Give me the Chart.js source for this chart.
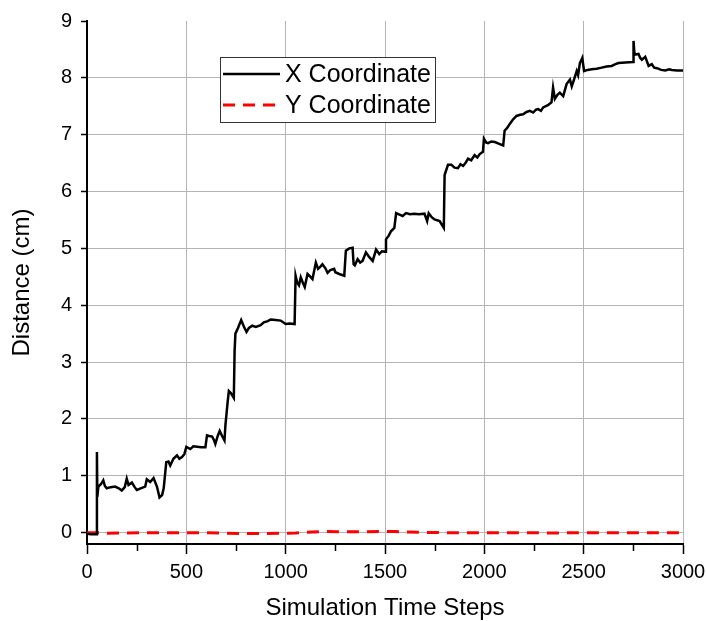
<!DOCTYPE html>
<html>
<head>
<meta charset="utf-8">
<script src="https://cdn.jsdelivr.net/npm/chart.js@4"></script>
<style>
    body { margin: 0; background: #fff; }
    canvas { display: block; }
</style>
</head>
<body>
<canvas id="chart" width="706" height="621"></canvas>
<script>
// X coordinate series (time step, distance in cm)
const xSteps = [0, 20, 48, 50, 52, 57, 70, 82, 90, 99, 120, 141, 160, 175, 190, 200, 209, 226, 240, 251, 270, 293, 301, 318, 335, 352, 365, 378, 386, 399, 410, 419, 435, 453, 465, 478, 490, 500, 520, 535, 554, 575, 596, 604, 615, 630, 640, 646, 658, 668, 680, 692, 697, 702, 708, 714, 725, 739, 743, 747, 760, 776, 790, 803, 815, 832, 850, 874, 890, 910, 924, 950, 975, 1000, 1020, 1045, 1050, 1058, 1067, 1076, 1086, 1096, 1110, 1125, 1135, 1152, 1163, 1175, 1185, 1200, 1211, 1225, 1244, 1250, 1270, 1295, 1303, 1320, 1337, 1342, 1348, 1362, 1375, 1387, 1404, 1420, 1438, 1455, 1471, 1485, 1500, 1505, 1518, 1530, 1547, 1556, 1570, 1589, 1606, 1625, 1648, 1670, 1699, 1712, 1720, 1735, 1749, 1775, 1796, 1800, 1817, 1834, 1850, 1867, 1880, 1893, 1905, 1918, 1934, 1951, 1965, 1977, 1993, 1998, 2010, 2019, 2035, 2053, 2075, 2095, 2102, 2115, 2128, 2145, 2162, 2180, 2195, 2212, 2229, 2246, 2260, 2271, 2285, 2296, 2320, 2338, 2346, 2355, 2368, 2380, 2397, 2414, 2431, 2440, 2447, 2465, 2472, 2481, 2493, 2502, 2520, 2540, 2565, 2591, 2615, 2641, 2660, 2675, 2710, 2749, 2751, 2755, 2759, 2776, 2785, 2793, 2810, 2827, 2843, 2855, 2869, 2890, 2911, 2930, 2944, 2970, 3000];
const xDist = [-0.02, -0.03, -0.03, 1.42, 0.63, 0.81, 0.85, 0.92, 0.82, 0.78, 0.8, 0.81, 0.78, 0.74, 0.8, 0.95, 0.84, 0.88, 0.8, 0.75, 0.78, 0.81, 0.94, 0.89, 0.96, 0.81, 0.62, 0.66, 0.78, 1.24, 1.25, 1.18, 1.3, 1.36, 1.3, 1.33, 1.38, 1.51, 1.47, 1.52, 1.51, 1.5, 1.5, 1.71, 1.7, 1.69, 1.62, 1.56, 1.7, 1.79, 1.7, 1.62, 1.9, 2.08, 2.3, 2.49, 2.45, 2.37, 3.2, 3.5, 3.6, 3.74, 3.62, 3.53, 3.6, 3.64, 3.62, 3.65, 3.7, 3.72, 3.75, 3.74, 3.73, 3.67, 3.68, 3.67, 4.52, 4.4, 4.35, 4.49, 4.4, 4.32, 4.55, 4.5, 4.46, 4.75, 4.64, 4.68, 4.72, 4.65, 4.57, 4.62, 4.64, 4.58, 4.55, 4.52, 4.96, 5.0, 5.01, 4.72, 4.7, 4.81, 4.75, 4.78, 4.93, 4.85, 4.78, 4.98, 4.9, 4.95, 4.94, 5.16, 5.22, 5.3, 5.36, 5.62, 5.6, 5.57, 5.62, 5.6, 5.61, 5.6, 5.61, 5.48, 5.62, 5.55, 5.51, 5.48, 5.36, 6.29, 6.47, 6.47, 6.42, 6.41, 6.48, 6.45, 6.5, 6.58, 6.55, 6.64, 6.6, 6.66, 6.7, 6.93, 6.86, 6.85, 6.88, 6.87, 6.84, 6.81, 7.07, 7.12, 7.19, 7.27, 7.33, 7.35, 7.36, 7.4, 7.42, 7.39, 7.44, 7.45, 7.42, 7.48, 7.52, 7.57, 7.83, 7.63, 7.7, 7.74, 7.68, 7.89, 7.97, 7.85, 7.92, 8.12, 8.05, 8.26, 8.35, 8.12, 8.14, 8.15, 8.16, 8.18, 8.2, 8.21, 8.24, 8.26, 8.27, 8.28, 8.65, 8.45, 8.41, 8.42, 8.35, 8.32, 8.37, 8.21, 8.24, 8.18, 8.17, 8.14, 8.13, 8.15, 8.14, 8.13, 8.13];

// Y coordinate series, stays close to zero
const ySteps = [0, 50, 100, 200, 300, 400, 500, 600, 700, 800, 900, 1000, 1050, 1100, 1200, 1300, 1400, 1500, 1550, 1600, 1700, 1800, 1900, 2000, 2100, 2200, 2300, 2400, 2500, 2600, 2700, 2800, 2900, 3000];
const yDist = [0, 0, -0.01, -0.005, 0, 0, 0, 0, -0.01, -0.015, -0.015, -0.01, -0.005, 0.005, 0.02, 0.015, 0.015, 0.02, 0.02, 0.01, 0.005, 0, 0, 0, 0, 0, -0.005, -0.005, 0, 0, 0, 0, 0, 0];

const yTicks = [0, 1, 2, 3, 4, 5, 6, 7, 8, 9];
const xTicks = [0, 500, 1000, 1500, 2000, 2500, 3000];
const xMinorTicks = [250, 750, 1250, 1750, 2250, 2750];

const fontFamily = '"Liberation Sans", Arial, sans-serif';

function toPoints(xs, ys) {
    return xs.map((x, i) => ({ x: x, y: ys[i] }));
}

// small ticks between the labelled x ticks
const minorTicks = {
    id: 'minorTicks',
    afterDraw(chart) {
        const ctx = chart.ctx;
        const xs = chart.scales.x;
        const y0 = chart.chartArea.bottom + 1;
        ctx.save();
        ctx.strokeStyle = '#000';
        ctx.lineWidth = 1.5;
        xMinorTicks.forEach(v => {
            const px = Math.round(xs.getPixelForValue(v)) + 0.5;
            ctx.beginPath();
            ctx.moveTo(px, y0);
            ctx.lineTo(px, y0 + 6);
            ctx.stroke();
        });
        ctx.restore();
    }
};

// Legend drawn as a box inside the plot
const boxLegend = {
    id: 'boxLegend',
    afterDraw(chart) {
        const ctx = chart.ctx;
        const left = 220, top = 57, width = 215, height = 65;
        ctx.save();
        ctx.fillStyle = '#fff';
        ctx.fillRect(left, top, width, height);
        ctx.strokeStyle = '#333';
        ctx.lineWidth = 1;
        ctx.strokeRect(left + 0.5, top + 0.5, width, height);
        ctx.font = '25px ' + fontFamily;
        ctx.textBaseline = 'middle';
        chart.data.datasets.forEach((ds, i) => {
            const y = top + 17 + i * 31;
            ctx.strokeStyle = ds.borderColor;
            ctx.lineWidth = ds.borderWidth;
            ctx.setLineDash(ds.borderDash || []);
            ctx.beginPath();
            ctx.moveTo(left + 3, y);
            ctx.lineTo(left + 60, y);
            ctx.stroke();
            ctx.setLineDash([]);
            ctx.fillStyle = '#000';
            ctx.fillText(ds.label, left + 65, y + 1);
        });
        ctx.restore();
    }
};

new Chart(document.getElementById('chart'), {
    type: 'line',
    data: {
        datasets: [{
            label: 'X Coordinate',
            data: toPoints(xSteps, xDist),
            borderColor: '#000',
            borderWidth: 2.5,
            pointRadius: 0,
            tension: 0
        }, {
            label: 'Y Coordinate',
            data: toPoints(ySteps, yDist),
            borderColor: '#ff0000',
            borderWidth: 3,
            borderDash: [12, 8],
            pointRadius: 0,
            tension: 0
        }]
    },
    options: {
        responsive: false,
        animation: false,
        layout: { padding: { top: 16, right: 23, left: 0, bottom: 0 } },
        plugins: {
            legend: { display: false },
            tooltip: { enabled: false }
        },
        scales: {
            x: {
                type: 'linear',
                min: 0,
                max: 3000,
                afterFit: s => {
                    s.height = 77;
                    s.paddingLeft = 0;
                    s.paddingRight = 0;
                },
                afterBuildTicks: axis => { axis.ticks = xTicks.map(v => ({ value: v })); },
                ticks: {
                    autoSkip: false,
                    maxRotation: 0,
                    color: '#000',
                    padding: 6,
                    font: { family: fontFamily, size: 20 },
                    callback: v => String(v)
                },
                grid: {
                    color: c => (c.tick && c.tick.value > 0 ? '#b4b4b4' : 'rgba(0,0,0,0)'),
                    lineWidth: 1,
                    tickColor: '#000',
                    tickWidth: 1.5,
                    tickLength: 10
                },
                border: { color: '#000', width: 2 },
                title: {
                    display: true,
                    text: 'Simulation Time Steps',
                    color: '#000',
                    font: { family: fontFamily, size: 24 },
                    padding: { top: 0, bottom: -2 }
                }
            },
            y: {
                min: -0.2,
                max: 9,
                afterFit: s => { s.width = 87; },
                afterBuildTicks: axis => { axis.ticks = yTicks.map(v => ({ value: v })); },
                ticks: {
                    color: '#000',
                    padding: 9,
                    font: { family: fontFamily, size: 20 }
                },
                grid: {
                    color: c => (c.tick && c.tick.value === 9 ? 'rgba(0,0,0,0)' : '#b4b4b4'),
                    lineWidth: 1,
                    tickColor: '#000',
                    tickWidth: 1.5,
                    tickLength: 6
                },
                border: { color: '#000', width: 2 },
                title: {
                    display: true,
                    text: 'Distance (cm)',
                    color: '#000',
                    font: { family: fontFamily, size: 24 },
                    padding: { top: 8, bottom: 0 }
                }
            }
        }
    },
    plugins: [minorTicks, boxLegend]
});
</script>
</body>
</html>
